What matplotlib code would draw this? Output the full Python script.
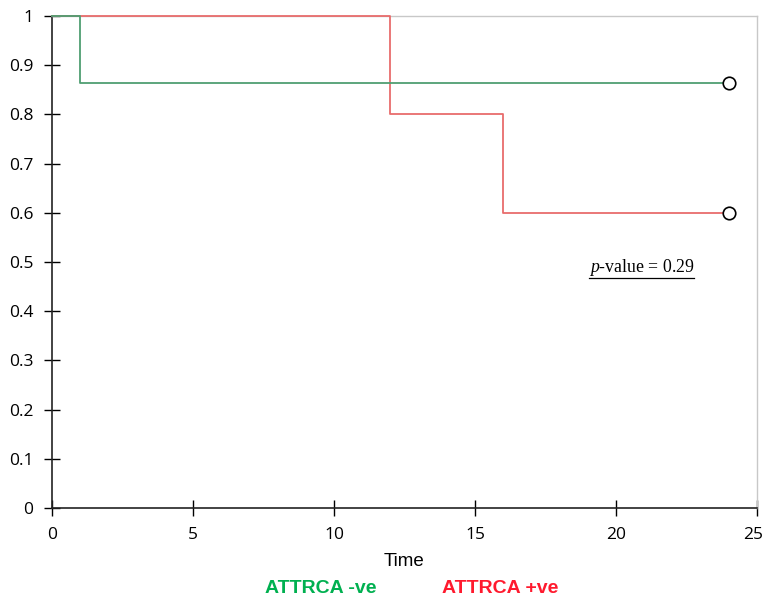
import matplotlib.pyplot as plt
import matplotlib.transforms as mtransforms
from matplotlib.lines import Line2D

# survival step data
neg_time = [0, 1, 1, 24]
neg_surv = [1, 1, 0.864, 0.864]
pos_time = [0, 12, 12, 16, 16, 24]
pos_surv = [1, 1, 0.8, 0.8, 0.6, 0.6]
censor_time = [24, 24]
censor_surv = [0.864, 0.6]
x_ticks = [0, 5, 10, 15, 20, 25]
y_ticks = [0, 0.1, 0.2, 0.3, 0.4, 0.5, 0.6, 0.7, 0.8, 0.9, 1]
y_labels = ['0', '0.1', '0.2', '0.3', '0.4', '0.5', '0.6', '0.7', '0.8', '0.9', '1']

plt.rcParams['font.family'] = ['Open Sans', 'DejaVu Sans']
plt.rcParams['mathtext.fontset'] = 'custom'
plt.rcParams['mathtext.it'] = 'Liberation Serif:italic'
plt.rcParams['mathtext.rm'] = 'Liberation Serif'

fig = plt.figure(figsize=(7.65, 6.02), dpi=100)
ax = fig.add_axes([0.068, 0.156, 0.9215, 0.8174])

ax.plot(pos_time, pos_surv, color='#e86c6c', lw=1.3, clip_on=False, zorder=4)
ax.plot(neg_time, neg_surv, color='#4f9e72', lw=1.3, clip_on=False, zorder=4)
ax.plot(censor_time, censor_surv, 'o', ms=9, mfc='white', mec='black', mew=1.2, zorder=5)

ax.set_xlim(0, 25)
ax.set_ylim(0, 1)
ax.set_xticks(x_ticks)
ax.set_yticks(y_ticks)
ax.set_yticklabels(y_labels)
ax.tick_params(direction='inout', length=11, width=1, labelsize=12.5)
ax.tick_params(axis='x', pad=8)
ax.tick_params(axis='y', pad=8)
for s in ['left', 'bottom']:
    ax.spines[s].set_color('#222222')
    ax.spines[s].set_linewidth(1.2)
for s in ['top', 'right']:
    ax.spines[s].set_color('#c8c8c8')
    ax.spines[s].set_linewidth(1.0)

# last x label sits right at the figure edge, nudge it in a bit
last = ax.get_xticklabels()[-1]
last.set_transform(last.get_transform() +
                   mtransforms.ScaledTranslation(-4 / 100, 0, fig.dpi_scale_trans))

ax.set_xlabel('Time', fontsize=13.5, labelpad=7, family='Liberation Sans')

fig.text(0.419, 0.015, 'ATTRCA -ve', color='#00b050', fontsize=14,
         fontweight='bold', ha='center', family='Liberation Sans')
fig.text(0.654, 0.015, 'ATTRCA +ve', color='#ff1a2e', fontsize=14,
         fontweight='bold', ha='center', family='Liberation Sans')

pt = ax.text(20.9, 0.488, r'$p$-value = 0.29', fontsize=12.8,
             family='Liberation Serif', ha='center', va='center')

fig.canvas.draw()
bb = pt.get_window_extent().transformed(fig.transFigure.inverted())
fig.add_artist(Line2D([bb.x0, bb.x1], [bb.y0, bb.y0],
                      color='black', lw=0.9, transform=fig.transFigure))

fig.savefig('out.png', dpi=100)
